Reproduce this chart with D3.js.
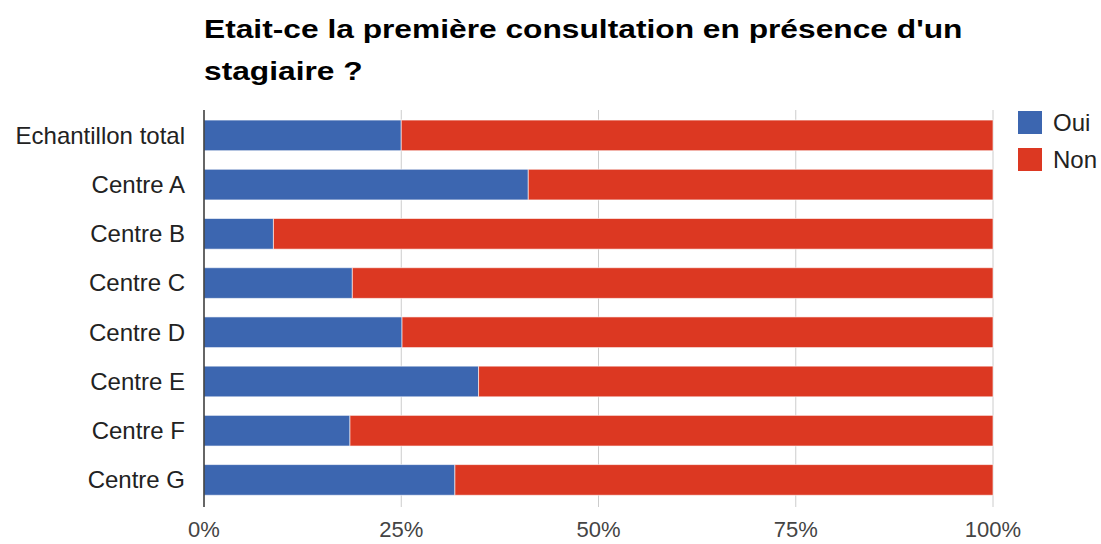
<!DOCTYPE html>
<html><head><meta charset="utf-8">
<script src="https://cdn.jsdelivr.net/npm/d3@7"></script>
<style>body{margin:0;background:#fff;}svg{display:block;font-family:"Liberation Sans",Arial,sans-serif;}</style>
</head><body>
<svg id="c" width="1101" height="544"></svg>
<script>
const categories = ["Echantillon total","Centre A","Centre B","Centre C","Centre D","Centre E","Centre F","Centre G"];
const oui = [25.0, 41.1, 8.8, 18.8, 25.1, 34.8, 18.5, 31.8];
const non = oui.map(v => 100 - v);
const seriesNames = ["Oui","Non"];
const seriesColors = ["#3c66b0","#dc3822"];
const tickValues = [0,25,50,75,100];
const titleLines = ["Etait-ce la première consultation en présence d'un","stagiaire ?"];

const svg = d3.select("#c");
const x = d3.scaleLinear().domain([0,100]).range([204,993]);
const y = d3.scaleBand().domain(categories).range([110.7,504.6]).paddingInner(0.377).paddingOuter(0.19);

// gridlines
svg.append("g").selectAll("line").data(tickValues.slice(1)).join("line")
  .attr("x1",d=>x(d)).attr("x2",d=>x(d)).attr("y1",110).attr("y2",507)
  .attr("stroke","#cccccc").attr("stroke-width",1);

const rows = categories.map((c,i)=>({c, o:oui[i], n:non[i]}));
const g = svg.append("g");
g.selectAll("rect.o").data(rows).join("rect").attr("class","o")
  .attr("x",x(0)).attr("y",d=>y(d.c)).attr("width",d=>x(d.o)-x(0)).attr("height",y.bandwidth())
  .attr("fill",seriesColors[0]).attr("stroke","#ffffff").attr("stroke-opacity",0.6).attr("stroke-width",1);
g.selectAll("rect.n").data(rows).join("rect").attr("class","n")
  .attr("x",d=>x(d.o)).attr("y",d=>y(d.c)).attr("width",d=>x(100)-x(d.o)).attr("height",y.bandwidth())
  .attr("fill",seriesColors[1]).attr("stroke","#ffffff").attr("stroke-opacity",0.6).attr("stroke-width",1);

// baseline axis
svg.append("line").attr("x1",x(0)).attr("x2",x(0)).attr("y1",110).attr("y2",507)
  .attr("stroke","#333").attr("stroke-width",1.5);

// x tick labels
svg.append("g").selectAll("text").data(tickValues).join("text")
  .attr("x",d=>x(d)).attr("y",537).attr("text-anchor","middle")
  .attr("font-size",22).attr("fill","#444")
  .text(d=>d+"%");

// category labels
svg.append("g").selectAll("text").data(categories).join("text")
  .attr("x",185).attr("y",d=>y(d)+y.bandwidth()/2).attr("dy","0.35em").attr("text-anchor","end")
  .attr("font-size",24).attr("fill","#222").text(d=>d);

// title (horizontally stretched like the reference)
svg.append("g").selectAll("text").data(titleLines).join("text")
  .attr("transform",(d,i)=>`translate(204,${38+i*42}) scale(1.22,1)`)
  .attr("font-size",26).attr("font-weight","bold")
  .attr("fill","#000").text(d=>d);

// legend
const lg = svg.append("g").selectAll("g").data(seriesNames).join("g")
  .attr("transform",(d,i)=>`translate(1018,${111+i*37})`);
lg.append("rect").attr("width",24).attr("height",23).attr("fill",(d,i)=>seriesColors[i]);
lg.append("text").attr("x",35).attr("y",20).attr("font-size",24).attr("fill","#222").text(d=>d);
</script>
</body></html>
